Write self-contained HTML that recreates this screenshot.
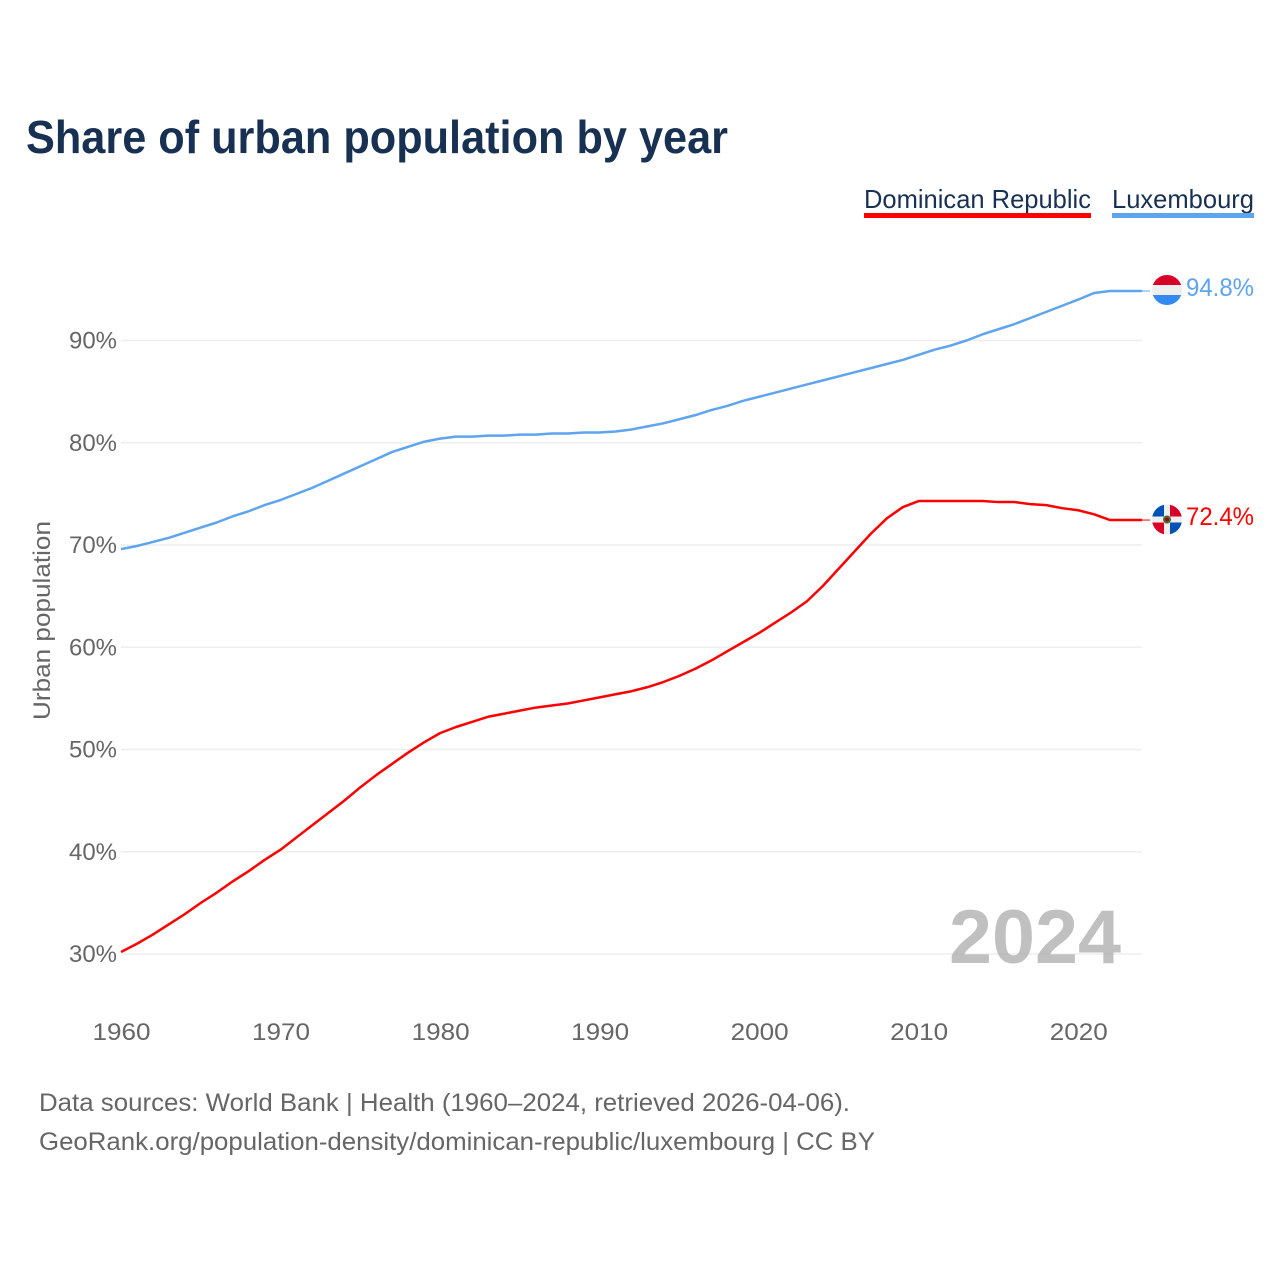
<!DOCTYPE html>
<html lang="en">
<head>
<meta charset="utf-8">
<title>Share of urban population by year</title>
<style>
html,body{margin:0;padding:0;background:#fff;}
svg{display:block;}
text{font-family:"Liberation Sans",sans-serif;}
</style>
</head>
<body>
<svg id="chart" xmlns="http://www.w3.org/2000/svg" width="1280" height="1280" viewBox="0 0 1280 1280">
  <rect x="0" y="0" width="1280" height="1280" fill="#ffffff"/>
  <text x="26" y="153" font-size="46" font-weight="700" fill="#183153" textLength="702" lengthAdjust="spacingAndGlyphs">Share of urban population by year</text>

  <g id="grid"></g>
  <g id="yticks"></g>
  <g id="xticks"></g>

  <text transform="translate(50,720) rotate(-90)" font-size="24" fill="#666666" textLength="199" lengthAdjust="spacingAndGlyphs">Urban population</text>

  <text x="1121" y="963" text-anchor="end" font-size="76" font-weight="700" fill="#a8a8a8" fill-opacity="0.72" textLength="172" lengthAdjust="spacingAndGlyphs">2024</text>

  <g id="series"></g>

  <g>
    <text x="864" y="208" font-size="26" fill="#183153" textLength="227" lengthAdjust="spacingAndGlyphs">Dominican Republic</text>
    <rect x="864" y="213" width="227" height="5" fill="#ff0000"/>
  </g>
  <g>
    <text x="1112" y="208" font-size="26" fill="#183153" textLength="142" lengthAdjust="spacingAndGlyphs">Luxembourg</text>
    <rect x="1112" y="213" width="142" height="5" fill="#5ea4ee"/>
  </g>

  <defs>
    <clipPath id="flag-lu-clip"><circle cx="1167" cy="290" r="15"/></clipPath>
    <clipPath id="flag-do-clip"><circle cx="1167" cy="519.5" r="15"/></clipPath>
  </defs>

  <g id="end-lux">
    <g clip-path="url(#flag-lu-clip)">
      <rect x="1152" y="275" width="30" height="10" fill="#d80027"/>
      <rect x="1152" y="285" width="30" height="10" fill="#eeeeee"/>
      <rect x="1152" y="295" width="30" height="10" fill="#338af3"/>
    </g>
    <text id="lux-value" x="1186" y="296" font-size="25" fill="#5ea4ee" textLength="68" lengthAdjust="spacingAndGlyphs"></text>
  </g>
  <g id="end-dr">
    <g clip-path="url(#flag-do-clip)">
      <rect x="1152" y="504.5" width="30" height="30" fill="#eeeeee"/>
      <rect x="1152" y="504.5" width="12" height="12" fill="#0052b4"/>
      <rect x="1170" y="504.5" width="12" height="12" fill="#d80027"/>
      <rect x="1152" y="522.5" width="12" height="12" fill="#d80027"/>
      <rect x="1170" y="522.5" width="12" height="12" fill="#0052b4"/>
      <circle cx="1167" cy="519.5" r="4" fill="#496e2d"/>
      <circle cx="1167" cy="519.5" r="2" fill="#a2001d"/>
    </g>
    <text id="dr-value" x="1186" y="525" font-size="25" fill="#ff0000" textLength="68" lengthAdjust="spacingAndGlyphs"></text>
  </g>

  <text x="39" y="1111" font-size="25" fill="#666666" textLength="811" lengthAdjust="spacingAndGlyphs">Data sources: World Bank | Health (1960–2024, retrieved 2026-04-06).</text>
  <text x="39" y="1150" font-size="25" fill="#666666" textLength="836" lengthAdjust="spacingAndGlyphs">GeoRank.org/population-density/dominican-republic/luxembourg | CC BY</text>
</svg>
<script>
const startYear = 1960;
const luxembourgValues = [69.6,69.9,70.3,70.7,71.2,71.7,72.2,72.8,73.3,73.9,74.4,75.0,75.6,76.3,77.0,77.7,78.4,79.1,79.6,80.1,80.4,80.6,80.6,80.7,80.7,80.8,80.8,80.9,80.9,81.0,81.0,81.1,81.3,81.6,81.9,82.3,82.7,83.2,83.6,84.1,84.5,84.9,85.3,85.7,86.1,86.5,86.9,87.3,87.7,88.1,88.6,89.1,89.5,90.0,90.6,91.1,91.6,92.2,92.8,93.4,94.0,94.65,94.84,94.84,94.84];
const dominicanValues = [30.2,31.0,31.9,32.9,33.9,35.0,36.0,37.1,38.1,39.2,40.2,41.4,42.6,43.8,45.0,46.3,47.5,48.6,49.7,50.7,51.6,52.2,52.7,53.2,53.5,53.8,54.1,54.3,54.5,54.8,55.1,55.4,55.7,56.1,56.6,57.2,57.9,58.7,59.6,60.5,61.4,62.4,63.4,64.5,66.0,67.7,69.4,71.1,72.6,73.7,74.3,74.3,74.3,74.3,74.3,74.2,74.2,74.0,73.9,73.6,73.4,73.0,72.44,72.44,72.44];
const yTickValues = [30,40,50,60,70,80,90];
const xTickValues = [1960,1970,1980,1990,2000,2010,2020];

const SVG_NS = 'http://www.w3.org/2000/svg';
function xScale(year){ return 121 + (year - 1960) * (1142 - 121) / 64; }
function yScale(v){ return 954 - (v - 30) * (954 - 340.5) / 60; }

const grid = document.getElementById('grid');
const yticks = document.getElementById('yticks');
const xticks = document.getElementById('xticks');

yTickValues.forEach(function(v){
  const line = document.createElementNS(SVG_NS, 'line');
  
  
  line.setAttribute('x1', 121);
  line.setAttribute('x2', 1142);
  line.setAttribute('y1', yScale(v));
  line.setAttribute('y2', yScale(v));
  line.setAttribute('stroke', '#eeeeee');
  line.setAttribute('stroke-width', '1.6');
  grid.appendChild(line);
  const t = document.createElementNS(SVG_NS, 'text');
  
  
  t.setAttribute('x', 69);
  t.setAttribute('y', yScale(v) + 8);
  t.setAttribute('font-size', '24');
  t.setAttribute('fill', '#666666');
  t.setAttribute('textLength', '48');
  t.setAttribute('lengthAdjust', 'spacingAndGlyphs');
  t.textContent = v + '%';
  yticks.appendChild(t);
});

xTickValues.forEach(function(y){
  const t = document.createElementNS(SVG_NS, 'text');
  
  
  t.setAttribute('x', xScale(y) - 28.5);
  t.setAttribute('y', 1040);
  t.setAttribute('font-size', '24');
  t.setAttribute('fill', '#666666');
  t.setAttribute('textLength', '58');
  t.setAttribute('lengthAdjust', 'spacingAndGlyphs');
  t.textContent = y;
  xticks.appendChild(t);
});

function linePath(values){
  return values.map(function(v, i){
    return (i ? 'L' : 'M') + xScale(startYear + i).toFixed(2) + ' ' + yScale(v).toFixed(2);
  }).join(' ');
}

const seriesGroup = document.getElementById('series');

const luxLine = document.createElementNS(SVG_NS, 'path');


luxLine.setAttribute('d', linePath(luxembourgValues));
luxLine.setAttribute('fill', 'none');
luxLine.setAttribute('stroke', '#5ea4ee');
luxLine.setAttribute('stroke-width', '2.5');
luxLine.setAttribute('stroke-linejoin', 'round');
seriesGroup.appendChild(luxLine);

const drLine = document.createElementNS(SVG_NS, 'path');


drLine.setAttribute('d', linePath(dominicanValues));
drLine.setAttribute('fill', 'none');
drLine.setAttribute('stroke', '#ff0000');
drLine.setAttribute('stroke-width', '2.5');
drLine.setAttribute('stroke-linejoin', 'round');
seriesGroup.appendChild(drLine);

document.getElementById('lux-value').textContent = luxembourgValues[luxembourgValues.length - 1].toFixed(1) + '%';
document.getElementById('dr-value').textContent = dominicanValues[dominicanValues.length - 1].toFixed(1) + '%';

const luxConn = document.createElementNS(SVG_NS, 'line');


luxConn.setAttribute('x1', 1142);
luxConn.setAttribute('x2', 1150);
luxConn.setAttribute('y1', yScale(luxembourgValues[luxembourgValues.length - 1]));
luxConn.setAttribute('y2', yScale(luxembourgValues[luxembourgValues.length - 1]));
luxConn.setAttribute('stroke', '#5ea4ee');
luxConn.setAttribute('stroke-width', '1');
seriesGroup.appendChild(luxConn);

const drConn = document.createElementNS(SVG_NS, 'line');


drConn.setAttribute('x1', 1142);
drConn.setAttribute('x2', 1150);
drConn.setAttribute('y1', yScale(dominicanValues[dominicanValues.length - 1]));
drConn.setAttribute('y2', yScale(dominicanValues[dominicanValues.length - 1]));
drConn.setAttribute('stroke', '#ff0000');
drConn.setAttribute('stroke-width', '1');
seriesGroup.appendChild(drConn);
</script>
</body>
</html>
